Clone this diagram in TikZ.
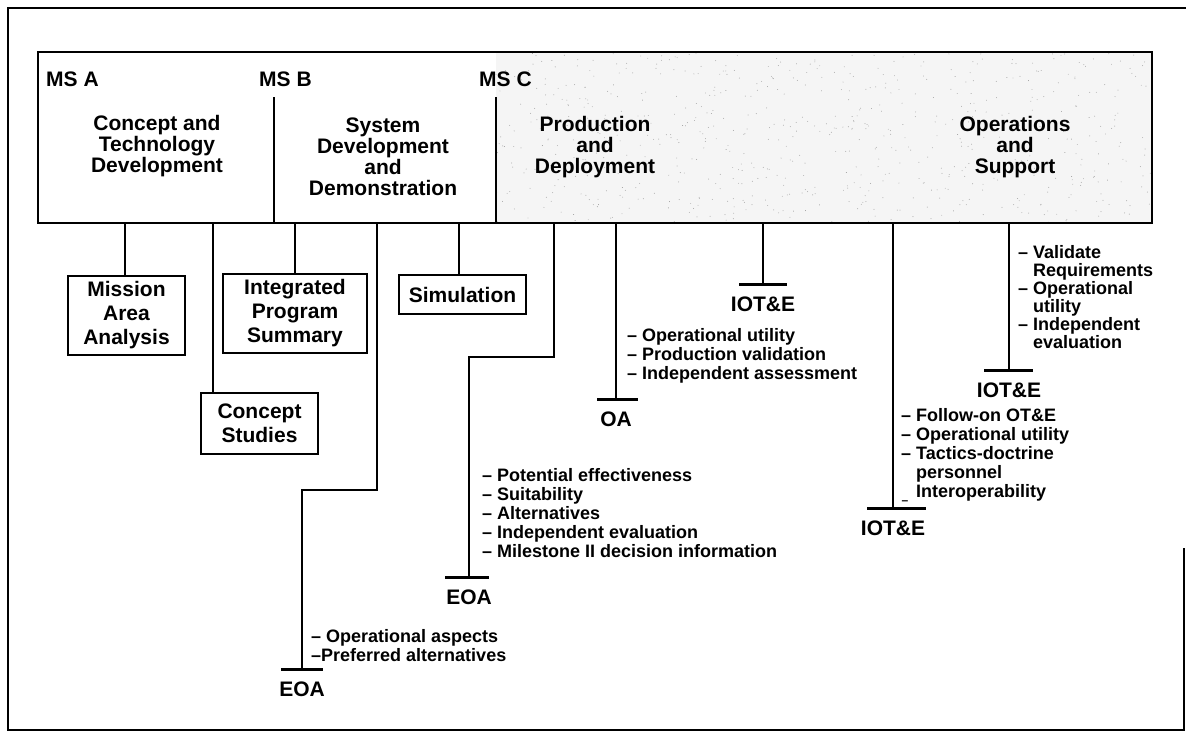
\documentclass[tikz,border=0pt]{standalone}
\usepackage{fontspec}
\setmainfont{Liberation Sans}
\usetikzlibrary{positioning}

\newcommand\headfont{\fontsize{21}{21}\selectfont\bfseries}
\newcommand\boxfont{\fontsize{21}{24}\selectfont\bfseries}
\newcommand\listfont{\fontsize{18}{19}\selectfont\bfseries}
\newcommand\dsh{\makebox[0.83em][l]{--}}
\newcommand\ind{\hspace*{0.83em}}

\begin{document}
\begin{tikzpicture}[
    x=1pt, y=-1pt,
    phase/.style = {font=\headfont, align=center, inner sep=0pt},
    milestone/.style = {font=\headfont, inner sep=0pt, anchor=west},
    activity/.style = {draw, line width=2.4pt, font=\boxfont, align=center, inner sep=0pt},
    notes/.style = {font=\listfont, align=left, inner sep=0pt, anchor=west},
    review/.style = {font=\headfont, inner sep=0pt},
    link/.style = {line width=2.2pt},
    bar/.style = {line width=3pt}
  ]
    \useasboundingbox (0,0) rectangle (1186,732);

    % outer frame
    \draw[line width=1.6pt] (1184,548) -- (1184,730) -- (8,730) -- (8,8) -- (1186,8);

    % phase bar, speckled on the right
    \fill[black!4] (496,52) rectangle (1152,223);
    \pgfmathsetseed{7}
    \foreach \i in {1,...,700}
      \fill[black!40] ({496+656*rnd},{52+171*rnd}) circle (0.45pt);
    \node[draw, line width=2.6pt, minimum width=1114, minimum height=171, inner sep=0pt] (phases) at (595,137.5) {};
    \coordinate (msBtop) at (274,97);
    \coordinate (msCtop) at (496,97);
    \draw[link] (msBtop) -- (msBtop |- phases.south);
    \draw[link] (msCtop) -- (msCtop |- phases.south);

    \node[milestone] (msA) at (46,79) {MS A};
    \node[milestone] (msB) at (259,79) {MS B};
    \node[milestone] (msC) at (479,79) {MS C};

    \node[phase] (concept) at (157,146) {Concept and\\Technology\\Development};
    \node[phase] (sysdev)  at (383,157) {System\\Development\\and\\Demonstration};
    \node[phase] (prod)    at (595,147) {Production\\and\\Deployment};
    \node[phase] (ops)     at (1015,147) {Operations\\and\\Support};

    % activities
    \node[activity, minimum width=117, minimum height=79] (mission)  at (126.5,315.5) {Mission\\Area\\Analysis};
    \node[activity, minimum width=117, minimum height=61] (cstudies) at (259.5,423.5) {Concept\\Studies};
    \node[activity, minimum width=144, minimum height=79] (ips)      at (295,313.5) {Integrated\\Program\\Summary};
    \node[activity, minimum width=127, minimum height=39] (simul)    at (462.5,294.5) {Simulation};

    % drop points on the phase bar
    \coordinate (d1)  at (125,223);
    \coordinate (d2)  at (213,223);
    \coordinate (d3)  at (295,223);
    \coordinate (d4)  at (377,223);
    \coordinate (d5)  at (459,223);
    \coordinate (d6)  at (554,223);
    \coordinate (d7)  at (616,223);
    \coordinate (d8)  at (763,223);
    \coordinate (d9)  at (893,223);
    \coordinate (d10) at (1009,223);

    % bends and test bars
    \coordinate (k4)  at (302,490);
    \coordinate (k6)  at (469,357);
    \coordinate (b4)  at (302,669);
    \coordinate (b6)  at (469,577);
    \coordinate (b7)  at (616,399);
    \coordinate (b8)  at (763,284);
    \coordinate (b9)  at (893,508);
    \coordinate (b10) at (1009,370);

    \draw[link] (d1) -- (d1 |- mission.north);
    \draw[link] (d2) -- (d2 |- cstudies.north);
    \draw[link] (d3) -- (d3 |- ips.north);
    \draw[link] (d5) -- (d5 |- simul.north);
    \draw[link] (d4) |- (k4) -- (b4);
    \draw[link] (d6) |- (k6) -- (b6);
    \draw[link] (d7) -- (b7);
    \draw[link] (d8) -- (b8);
    \draw[link] (d9) -- (b9);
    \draw[link] (d10) -- (b10);

    \draw[bar] ([xshift=-21pt]b4) -- ([xshift=21pt]b4);
    \draw[bar] ([xshift=-24pt]b6) -- ([xshift=20pt]b6);
    \draw[bar] ([xshift=-19pt]b7) -- ([xshift=22pt]b7);
    \draw[bar] ([xshift=-24pt]b8) -- ([xshift=24pt]b8);
    \draw[bar] ([xshift=-26pt]b9) -- ([xshift=33pt]b9);
    \draw[bar] ([xshift=-25pt]b10) -- ([xshift=24pt]b10);

    % test events
    \node[review, below=12.5pt of b4]  (eoaA) {EOA};
    \node[review, below=12.5pt of b6]  (eoaB) {EOA};
    \node[review, below=12.5pt of b7]  (oa)   {OA};
    \node[review, below=12.5pt of b8]  (iotA) {IOT\&E};
    \node[review, below=12.5pt of b9]  (iotB) {IOT\&E};
    \node[review, below=12.5pt of b10] (iotC) {IOT\&E};

    % notes
    \node[notes] (eoaAnotes) at (311,646) {\dsh Operational aspects\\--Preferred alternatives};
    \node[notes] (eoaBnotes) at (482,513) {\dsh Potential effectiveness\\\dsh Suitability\\\dsh Alternatives\\\dsh Independent evaluation\\\dsh Milestone II decision information};
    \node[notes] (oanotes)   at (627,356) {\dsh Operational utility\\\dsh Production validation\\\dsh Independent assessment};
    \node[notes] (iotBnotes) at (901,455) {\dsh Follow-on OT\&E\\\dsh Operational utility\\\dsh Tactics-doctrine\\\ind personnel\\\ind Interoperability};
    \node[notes, font=\fontsize{18}{18}\selectfont\bfseries] (iotCnotes) at (1018,297) {\dsh Validate\\\ind Requirements\\\dsh Operational\\\ind utility\\\dsh Independent\\\ind evaluation};
    \node[font=\fontsize{12}{12}\selectfont\bfseries, inner sep=0pt] (stray) at (905,503) {--};

  \end{tikzpicture}
\end{document}
